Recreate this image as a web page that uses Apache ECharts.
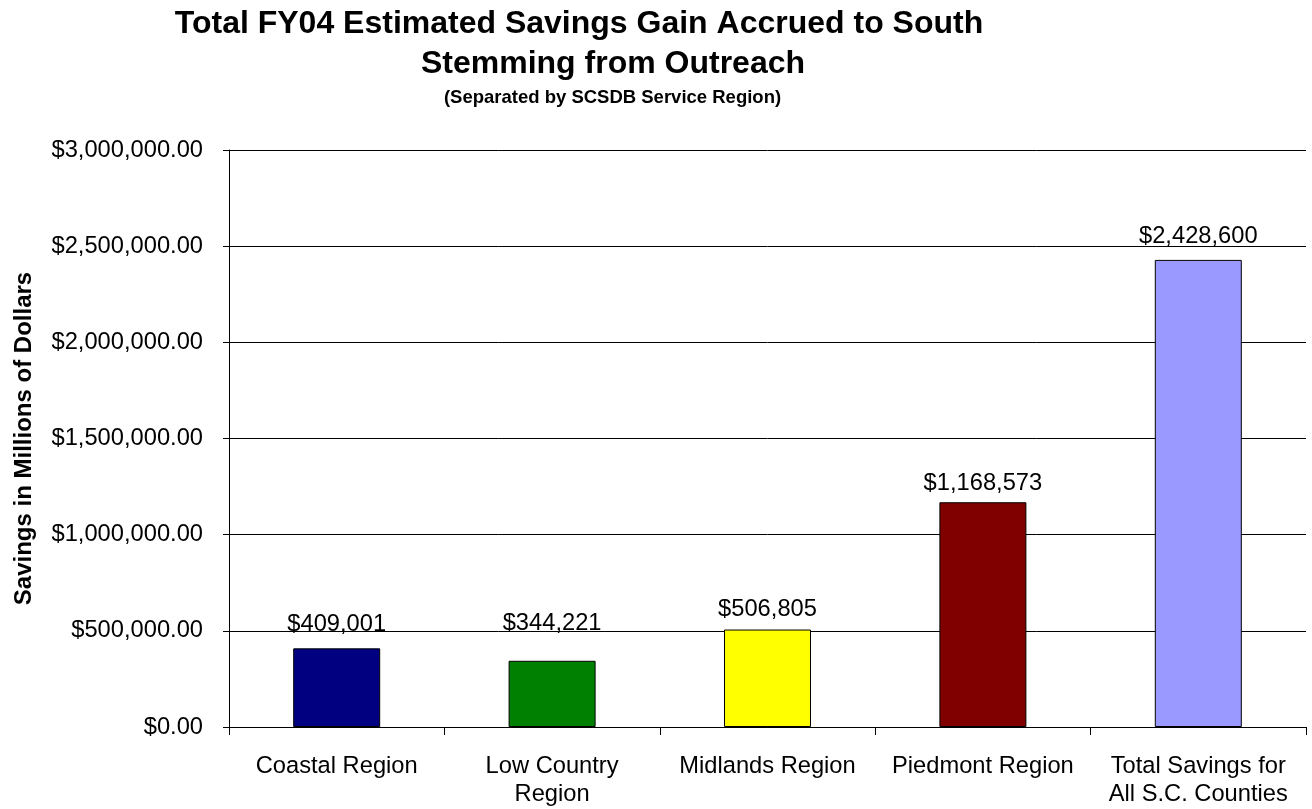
<!DOCTYPE html>
<html>
<head>
<meta charset="utf-8">
<script src="https://cdn.jsdelivr.net/npm/echarts@6/dist/echarts.min.js"></script>
<style>
html,body{margin:0;padding:0;background:#fff;}
#chart{width:1312px;height:809px;}
</style>
</head>
<body>
<div id="chart"></div>
<script>
const categories = ['Coastal Region', 'Low Country\nRegion', 'Midlands Region', 'Piedmont Region', 'Total Savings for\nAll S.C. Counties'];
const savings = [409001, 344221, 506805, 1168573, 2428600];
const barColors = ['#000080', '#008000', '#FFFF00', '#800000', '#9999FF'];
const titleLines = ['Total FY04 Estimated Savings Gain Accrued to South', 'Stemming from Outreach'];
const subtitleText = '(Separated by SCSDB Service Region)';
const yAxisName = 'Savings in Millions of Dollars';

const FONT = '"Liberation Sans", Arial, sans-serif';
const FS = 23.7;
function withCommas(s) { return s.replace(/\B(?=(\d{3})+(?!\d))/g, ','); }
function fmtAxis(v) { const p = v.toFixed(2).split('.'); return '$' + withCommas(p[0]) + '.' + p[1]; }
function fmtLabel(v) { return '$' + withCommas(String(Math.round(v))); }
// extra label gap per bar, as placed in the original chart
const labelGap = [12, 25, 8, 7, 11];

const chart = echarts.init(document.getElementById('chart'), null, {renderer: 'canvas'});
chart.setOption({
  backgroundColor: '#ffffff',
  animation: false,
  graphic: [
    {type: 'text', x: 579, y: 24, style: {text: titleLines[0], fontFamily: FONT, fontWeight: 'bold', fontSize: 32, fill: '#000', align: 'center', verticalAlign: 'middle'}},
    {type: 'text', x: 613, y: 64, style: {text: titleLines[1], fontFamily: FONT, fontWeight: 'bold', fontSize: 32, fill: '#000', align: 'center', verticalAlign: 'middle'}},
    {type: 'text', x: 612.5, y: 98, style: {text: subtitleText, fontFamily: FONT, fontWeight: 'bold', fontSize: 18.5, fill: '#000', align: 'center', verticalAlign: 'middle'}}
  ],
  grid: {left: 229, right: 6, top: 150, bottom: 82, containLabel: false},
  xAxis: {
    type: 'category',
    data: categories,
    boundaryGap: true,
    axisLine: {show: true, lineStyle: {color: '#000', width: 1}},
    axisTick: {show: true, alignWithLabel: false, length: 8, lineStyle: {color: '#000'}},
    axisLabel: {color: '#000', fontFamily: FONT, fontSize: FS, lineHeight: 28, margin: 25, interval: 0, align: 'center'}
  },
  yAxis: {
    type: 'value',
    min: 0, max: 3000000, interval: 500000,
    name: yAxisName,
    nameLocation: 'middle',
    nameGap: 193,
    nameRotate: 90,
    nameTextStyle: {color: '#000', fontFamily: FONT, fontWeight: 'bold', fontSize: 24},
    axisLine: {show: true, lineStyle: {color: '#000', width: 1}},
    axisTick: {show: true, length: 6, lineStyle: {color: '#000'}},
    axisLabel: {color: '#000', fontFamily: FONT, fontSize: FS, margin: 26, formatter: fmtAxis},
    splitLine: {show: true, lineStyle: {color: '#000', width: 1}}
  },
  series: [{
    type: 'bar',
    data: savings.map((v, i) => ({value: v, itemStyle: {color: barColors[i]}, label: {distance: labelGap[i]}})),
    barWidth: 87,
    itemStyle: {borderColor: '#000', borderWidth: 1},
    label: {show: true, position: 'top', distance: 8, color: '#000', fontFamily: FONT, fontSize: FS, formatter: p => fmtLabel(p.value)}
  }]
});
</script>
</body>
</html>
